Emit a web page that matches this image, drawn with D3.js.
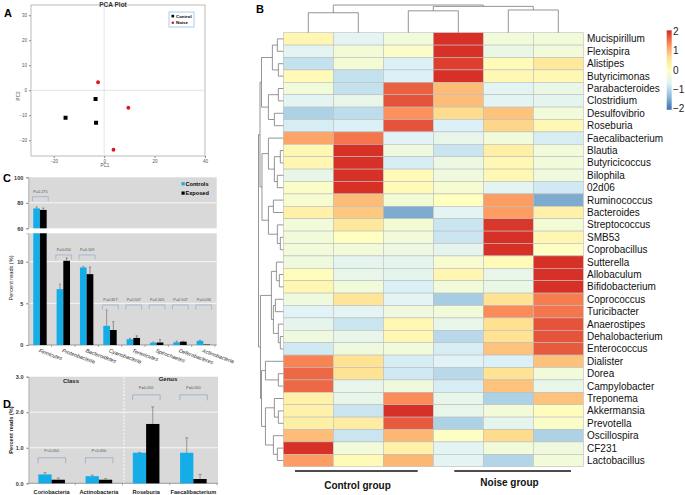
<!DOCTYPE html>
<html><head><meta charset="utf-8">
<script src="https://cdn.jsdelivr.net/npm/d3@7"></script>
<style>
body{margin:0;background:#fff}
svg{display:block}
text{font-family:"Liberation Sans",Arial,sans-serif}
</style>
</head><body>
<svg id="c" width="685" height="495"></svg>
<script>
// ================= DATA =================
// Panel A: PCA scores
const pcaControl = [[-15.3,-11.0],[-3.4,-3.5],[-3.2,-13.0]];
const pcaNoise   = [[-2.4,3.2],[9.6,-7.0],[3.7,-23.8]];
const pcaXTicks = [-20,0,20,40];
const pcaYTicks = [-20,-10,0,10,20,30];

// Panel C: phyla
const phyla = ["Firmicutes","Proteobacteria","Bacteroidetes","Cyanobacteria","Tenericutes","Spirochaetes","Deferribacteres","Actinobacteria"];
const phylaControl    = [75.6, 6.7, 9.3, 2.3, 0.7, 0.28, 0.33, 0.5];
const phylaControlErr = [1.2, 0.6, 0.12, 1.9, 0.1, 0.07, 0.15, 0.05];
const phylaExposed    = [74.4, 10.1, 8.5, 1.8, 0.85, 0.3, 0.4, 0.05];
const phylaExposedErr = [1.5, 0.35, 0.85, 1.0, 0.25, 0.35, 0.05, 0];
const phylaP          = ["P=0.275","P=0.050","P=0.109","P=0.827","P=0.507","P=0.505","P=0.507","P=0.034"];
const phylaBracket    = [84.8, 10.8, 10.8, 4.8, 4.8, 4.8, 4.8, 4.8];
const cTicksTop = [60,80,100];
const cTicksBot = [0,5,10];

// Panel D
const taxaD = ["Coriobacteria","Actinobacteria","Roseburia","Faecalibacterium"];
const dControl    = [0.25, 0.2, 0.86, 0.86];
const dControlErr = [0.05, 0.03, 0.01, 0.42];
const dExposed    = [0.1, 0.1, 1.67, 0.12];
const dExposedErr = [0.05, 0.03, 0.48, 0.13];
const dP          = ["P<0.050","P<0.050","P=0.050","P=0.050"];
const dBracket    = [0.72, 0.72, 2.49, 2.49];
const dTicks = [0,1,2,3];

// Panel B: heatmap
const genera = ["Mucispirillum","Flexispira","Alistipes","Butyricimonas","Parabacteroides","Clostridium","Desulfovibrio","Roseburia","Faecalibacterium","Blautia","Butyricicoccus","Bilophila","02d06","Ruminococcus","Bacteroides","Streptococcus","SMB53","Coprobacillus","Sutterella","Allobaculum","Bifidobacterium","Coprococcus","Turicibacter","Anaerostipes","Dehalobacterium","Enterococcus","Dialister","Dorea","Campylobacter","Treponema","Akkermansia","Prevotella","Oscillospira","CF231","Lactobacillus"];
const samples = ["C1","C2","C3","N1","N2","N3"];
const heatValues = [
[0.2,-0.6,-0.3,2.1,-0.3,-0.3],
[-0.6,-0.25,-0.1,2.1,-0.45,-0.3],
[-0.9,-0.25,-0.7,1.9,0.1,0.5],
[0.1,-0.9,-0.7,2.0,0.15,0.15],
[-0.3,-0.9,1.65,0.95,-0.6,-0.45],
[-0.6,-0.5,1.75,0.95,-0.6,-0.55],
[-1.1,-0.95,1.3,0.7,0.9,-0.3],
[-0.75,-0.7,1.75,-0.7,0.75,0.15],
[1.15,1.5,-0.65,-0.5,-0.3,-0.75],
[0.15,2.1,-0.35,-0.85,0.35,-0.3],
[0.2,2.1,-0.75,-0.4,0.15,-0.3],
[-0.5,2.1,0.1,-0.35,0.15,-0.35],
[-0.1,2.1,0.1,-0.2,-0.6,-0.8],
[-0.2,0.95,-0.25,0.0,1.2,-1.5],
[0.3,0.85,-1.5,-0.6,1.2,0.3],
[-0.3,0.5,-0.25,-0.85,1.95,-0.25],
[-0.3,0.0,-0.3,-0.85,2.0,0.2],
[-0.3,-0.3,-0.4,-0.55,2.1,-0.05],
[-0.35,-0.55,-0.55,-0.2,0.1,2.1],
[0.05,-0.5,-0.55,0.2,-0.5,2.1],
[0.2,-0.3,-0.7,-0.3,-0.45,2.1],
[-0.35,0.55,-0.6,-1.15,0.6,1.45],
[-0.65,-0.6,-0.35,-0.3,1.35,1.5],
[-0.55,-0.85,0.15,-0.5,0.65,1.75],
[-0.35,-0.5,0.15,-1.0,0.6,1.75],
[-0.8,-0.35,-0.3,-0.75,0.9,1.7],
[1.4,0.6,-0.75,-0.65,-0.7,0.9],
[1.6,0.6,-0.8,-1.0,0.6,-0.3],
[1.6,-0.5,-0.35,-0.75,0.9,-0.5],
[0.3,-0.5,1.35,-0.5,-1.1,0.9],
[0.3,-0.85,2.0,-0.5,-0.3,0.05],
[0.35,0.4,1.7,-1.1,-0.55,-0.1],
[0.95,-0.85,1.0,-0.05,0.7,-1.1],
[2.0,-0.3,0.3,-0.6,-0.3,-0.35],
[1.2,0.1,1.0,-0.6,-1.05,-0.3]
];
const legendTicks = [2,1,0,-1,-2];
// dendrograms: [left, right, height]
const colTree = [[0,1,7.2],[[2,3,7.9],[4,5,8.2],9.5],10];
const G1 = [[0,1,6],[2,3,5],11];
const G2 = [[4,5,5],[6,7,9],15];
const G3 = [8,[[9,10,3],[11,12,6],9],15];
const G4 = [[13,14,10],[15,[16,17,3],6],15];
const G5 = [[18,[19,20,4],7],[[21,22,8],[23,[24,25,3],5],10],12];
const G6 = [26,[27,28,5],18];
const G7 = [[29,[30,31,5],9],[32,[33,34,6],10],18];
const rowTree = [[[G1,G2,22],[G3,G4,21.5],23.5],[G5,[G6,G7,22],23],25];

// ================= DRAW =================
const svg = d3.select("#c");
const blue = "#14ADE8";

function letter(x,y,t){
  svg.append("text").attr("x",x).attr("y",y).attr("font-size",11).attr("font-weight","bold").text(t);
}

// ---------- Panel A ----------
(function(){
  const g = svg.append("g");
  const x = d3.scaleLinear().domain([-29,40]).range([31,205]);
  const y = d3.scaleLinear().domain([-26.3,34.1]).range([156,5]);
  g.append("rect").attr("x",31).attr("y",5).attr("width",174).attr("height",151).attr("fill","#fff").attr("stroke","#aaa").attr("stroke-width",0.8);
  g.append("line").attr("x1",x(0)).attr("x2",x(0)).attr("y1",5).attr("y2",156).attr("stroke","#ddd").attr("stroke-width",0.8);
  g.append("line").attr("x1",31).attr("x2",205).attr("y1",y(0)).attr("y2",y(0)).attr("stroke","#ddd").attr("stroke-width",0.8);
  const ax = g.append("g").attr("transform","translate(0,156)").call(d3.axisBottom(x).tickValues(pcaXTicks).tickSize(2).tickPadding(2));
  const ay = g.append("g").attr("transform","translate(31,0)").call(d3.axisLeft(y).tickValues(pcaYTicks).tickSize(2).tickPadding(2));
  [ax,ay].forEach(a=>{a.select(".domain").remove();a.selectAll("line").attr("stroke","#888");a.selectAll("text").attr("font-size",4.5).attr("fill","#555");});
  g.selectAll(".ctl").data(pcaControl).enter().append("rect")
    .attr("x",d=>x(d[0])-2).attr("y",d=>y(d[1])-2).attr("width",4).attr("height",4).attr("fill","#000");
  g.selectAll(".noi").data(pcaNoise).enter().append("circle")
    .attr("cx",d=>x(d[0])).attr("cy",d=>y(d[1])).attr("r",1.9).attr("fill","#e0141e");
  g.append("text").attr("x",113).attr("y",6.5).attr("text-anchor","middle").attr("font-size",6.5).attr("font-weight","bold").attr("fill","#333").text("PCA Plot");
  g.append("text").attr("x",105).attr("y",167).attr("text-anchor","middle").attr("font-size",4.5).attr("fill","#555").text("PC1");
  g.append("text").attr("transform","translate(20,96) rotate(-90)").attr("text-anchor","middle").attr("font-size",4.5).attr("fill","#555").text("PC2");
  // legend
  g.append("rect").attr("x",169).attr("y",12).attr("width",25).attr("height",15).attr("fill","#fff").attr("stroke","#8fc0e8").attr("stroke-width",0.8);
  g.append("rect").attr("x",171.5).attr("y",14.8).attr("width",2.6).attr("height",2.6).attr("fill","#000");
  g.append("circle").attr("cx",172.8).attr("cy",22.7).attr("r",1.3).attr("fill","#e0141e");
  g.append("text").attr("x",176).attr("y",17.6).attr("font-size",4.4).attr("font-weight","bold").text("Control");
  g.append("text").attr("x",176).attr("y",24.3).attr("font-size",4.4).attr("font-weight","bold").text("Noise");
  letter(4,17,"A");
})();

// ---------- Panel C ----------
(function(){
  const g = svg.append("g");
  const x = d3.scaleBand().domain(phyla).range([28.3,215]);
  const yT = d3.scaleLinear().domain([60,100]).range([228.3,177.3]);
  const yB = d3.scaleLinear().domain([0,13.4]).range([345,233.3]);
  const L = 28.3, R = 216.7;
  g.append("rect").attr("x",L).attr("y",yT(100)).attr("width",R-L).attr("height",yT(60)-yT(100)).attr("fill","#d9d9d9");
  g.append("rect").attr("x",L).attr("y",yB(13.4)).attr("width",R-L).attr("height",yB(0)-yB(13.4)).attr("fill","#d9d9d9");
  [80].forEach(v=>g.append("line").attr("x1",L).attr("x2",R).attr("y1",yT(v)).attr("y2",yT(v)).attr("stroke","#fff").attr("stroke-width",0.8));
  [5,10].forEach(v=>g.append("line").attr("x1",L).attr("x2",R).attr("y1",yB(v)).attr("y2",yB(v)).attr("stroke","#fff").attr("stroke-width",0.8));
  // axes
  const at = g.append("g").attr("transform",`translate(${L},0)`).call(d3.axisLeft(yT).tickValues(cTicksTop).tickSize(2).tickPadding(3));
  const ab = g.append("g").attr("transform",`translate(${L},0)`).call(d3.axisLeft(yB).tickValues(cTicksBot).tickSize(2).tickPadding(3));
  [at,ab].forEach(a=>{a.select(".domain").attr("stroke","#999").attr("stroke-width",0.6);a.selectAll("line").attr("stroke","#777");a.selectAll("text").attr("font-size",5.5).attr("font-weight","bold").attr("fill","#333");});
  g.append("line").attr("x1",L).attr("x2",R).attr("y1",yB(0)).attr("y2",yB(0)).attr("stroke","#777").attr("stroke-width",0.7);
  phyla.forEach((p,i)=>{
    const bx = x(p)+x.bandwidth();
    g.append("line").attr("x1",bx).attr("x2",bx).attr("y1",yB(0)).attr("y2",yB(0)+2).attr("stroke","#777").attr("stroke-width",0.6);
  });
  const bw = 6.7;
  function bar(v,err,cx,col,ecol){
    if (v > 13.4){
      g.append("rect").attr("x",cx).attr("y",yB(13.4)).attr("width",bw).attr("height",yB(0)-yB(13.4)).attr("fill",col);
      g.append("rect").attr("x",cx).attr("y",yT(v)).attr("width",bw).attr("height",yT(60)-yT(v)).attr("fill",col);
      const ex = cx+bw/2;
      g.append("line").attr("x1",ex).attr("x2",ex).attr("y1",yT(v)).attr("y2",yT(v+err)).attr("stroke",ecol).attr("stroke-width",0.6);
      g.append("line").attr("x1",ex-1).attr("x2",ex+1).attr("y1",yT(v+err)).attr("y2",yT(v+err)).attr("stroke",ecol).attr("stroke-width",0.6);
    } else {
      g.append("rect").attr("x",cx).attr("y",yB(v)).attr("width",bw).attr("height",yB(0)-yB(v)).attr("fill",col);
      if (err>0){
        const ex = cx+bw/2;
        g.append("line").attr("x1",ex).attr("x2",ex).attr("y1",yB(v)).attr("y2",yB(v+err)).attr("stroke",ecol).attr("stroke-width",0.6);
        g.append("line").attr("x1",ex-1).attr("x2",ex+1).attr("y1",yB(v+err)).attr("y2",yB(v+err)).attr("stroke",ecol).attr("stroke-width",0.6);
      }
    }
  }
  phyla.forEach((p,i)=>{
    const c = x(p)+x.bandwidth()/2;
    bar(phylaControl[i],phylaControlErr[i],c-bw,blue,"#666");
    bar(phylaExposed[i],phylaExposedErr[i],c,"#000","#555");
    // bracket
    const lv = phylaBracket[i];
    const by = lv>13.4 ? yT(lv) : yB(lv);
    g.append("path").attr("d",`M${c-7.5},${by+4.5}V${by}H${c+8.3}V${by+4.5}`).attr("fill","none").attr("stroke","#94aacb").attr("stroke-width",0.7);
    g.append("text").attr("x",c+0.5).attr("y",by-4).attr("text-anchor","middle").attr("font-size",3.8).attr("fill","#555").text(phylaP[i]);
    g.append("text").attr("transform",`translate(${c-1.5},${yB(0)+7}) rotate(20)`).attr("font-size",5.3).attr("font-style","italic").attr("fill","#222").text(p);
  });
  g.append("text").attr("transform","translate(13,278) rotate(-90)").attr("text-anchor","middle").attr("font-size",5.6).attr("fill","#222").text("Percent reads (%)");
  // legend
  g.append("rect").attr("x",181.5).attr("y",182.2).attr("width",3.2).attr("height",3.2).attr("fill",blue);
  g.append("rect").attr("x",181.5).attr("y",191.5).attr("width",3.2).attr("height",3.2).attr("fill","#000");
  g.append("text").attr("x",185.5).attr("y",185.6).attr("font-size",5.6).attr("font-weight","bold").text("Controls");
  g.append("text").attr("x",185.5).attr("y",194.9).attr("font-size",5.6).attr("font-weight","bold").text("Exposed");
  letter(3,182,"C");
})();

// ---------- Panel D ----------
(function(){
  const g = svg.append("g");
  const x = d3.scaleBand().domain(taxaD).range([28,217]);
  const y = d3.scaleLinear().domain([0,3]).range([483.3,376.7]);
  const L = 28.5, R = 218;
  g.append("rect").attr("x",L).attr("y",y(3)).attr("width",R-L).attr("height",y(0)-y(3)).attr("fill","#d9d9d9");
  [1,2].forEach(v=>g.append("line").attr("x1",L).attr("x2",R).attr("y1",y(v)).attr("y2",y(v)).attr("stroke","#fff").attr("stroke-width",0.8));
  const sep = x(taxaD[2]);
  g.append("line").attr("x1",sep+1.5).attr("x2",sep+1.5).attr("y1",y(3)).attr("y2",y(0)).attr("stroke","#fff").attr("stroke-width",1).attr("stroke-dasharray","2,1.5");
  const a = g.append("g").attr("transform",`translate(${L},0)`).call(d3.axisLeft(y).tickValues(dTicks).tickSize(2).tickPadding(3));
  a.select(".domain").attr("stroke","#999").attr("stroke-width",0.6);
  a.selectAll("line").attr("stroke","#777");
  a.selectAll("text").attr("font-size",5.5).attr("font-weight","bold").attr("fill","#333");
  g.append("line").attr("x1",L).attr("x2",R).attr("y1",y(0)).attr("y2",y(0)).attr("stroke","#777").attr("stroke-width",0.7);
  taxaD.forEach((t,i)=>{
    const bx = x(t)+x.bandwidth();
    g.append("line").attr("x1",bx).attr("x2",bx).attr("y1",y(0)).attr("y2",y(0)+2).attr("stroke","#777").attr("stroke-width",0.6);
  });
  const bw = 13.3;
  function bar(v,err,cx,col,ecol){
    g.append("rect").attr("x",cx).attr("y",y(v)).attr("width",bw).attr("height",y(0)-y(v)).attr("fill",col);
    const ex = cx+bw/2;
    g.append("line").attr("x1",ex).attr("x2",ex).attr("y1",y(v)).attr("y2",y(v+err)).attr("stroke",ecol).attr("stroke-width",0.7);
    g.append("line").attr("x1",ex-1.5).attr("x2",ex+1.5).attr("y1",y(v+err)).attr("y2",y(v+err)).attr("stroke",ecol).attr("stroke-width",0.7);
  }
  taxaD.forEach((t,i)=>{
    const c = x(t)+x.bandwidth()/2;
    bar(dControl[i],dControlErr[i],c-bw,blue,"#777");
    bar(dExposed[i],dExposedErr[i],c,"#000","#777");
    const by = y(dBracket[i]);
    g.append("path").attr("d",`M${c-13.5},${by+5.5}V${by}H${c+14}V${by+5.5}`).attr("fill","none").attr("stroke","#94aacb").attr("stroke-width",0.8);
    g.append("text").attr("x",c).attr("y",by-5.5).attr("text-anchor","middle").attr("font-size",3.9).attr("fill","#555").text(dP[i]);
    g.append("text").attr("x",c).attr("y",494).attr("text-anchor","middle").attr("font-size",5.6).attr("font-weight","bold").attr("fill","#222").text(t);
  });
  g.append("text").attr("x",71).attr("y",382.5).attr("text-anchor","middle").attr("font-size",6).attr("font-weight","bold").attr("fill","#222").text("Class");
  g.append("text").attr("x",168).attr("y",381).attr("text-anchor","middle").attr("font-size",6).attr("font-weight","bold").attr("fill","#222").text("Genus");
  g.append("text").attr("transform","translate(13,430) rotate(-90)").attr("text-anchor","middle").attr("font-size",5.6).attr("font-weight","bold").attr("fill","#222").text("Percent reads (%)");
  letter(3,408,"D");
})();

// ---------- Panel B ----------
(function(){
  const g = svg.append("g");
  const x = d3.scaleBand().domain(d3.range(samples.length)).range([283.3,583.3]);
  const y = d3.scaleBand().domain(d3.range(genera.length)).range([32.7,466.7]);
  const color = d3.scaleLinear()
    .domain([-2,-1.333,-0.667,0,0.667,1.333,2])
    .range(["#4575B4","#91BFDB","#E0F3F8","#FFFFBF","#FEE090","#FC8D59","#D73027"])
    .clamp(true);
  heatValues.forEach((row,r)=>{
    row.forEach((v,c)=>{
      g.append("rect").attr("x",x(c)).attr("y",y(r)).attr("width",x.bandwidth()).attr("height",y.bandwidth())
        .attr("fill",color(v)).attr("stroke","#bdbdbd").attr("stroke-width",0.6);
    });
  });
  // row labels
  genera.forEach((n,r)=>{
    g.append("text").attr("x",587).attr("y",y(r)+y.bandwidth()/2).attr("dy","0.35em").attr("font-size",10).attr("fill","#111").text(n);
  });
  // dendrograms
  function dendro(tree, leafPos, hs, orient){
    function rec(node){
      if (typeof node === "number") return {p:leafPos(node), h:0};
      const a = rec(node[0]), b = rec(node[1]), h = node[2];
      let d;
      if (orient==="top") d = `M${a.p},${hs(a.h)}V${hs(h)}H${b.p}V${hs(b.h)}`;
      else d = `M${hs(a.h)},${a.p}H${hs(h)}V${b.p}H${hs(b.h)}`;
      g.append("path").attr("d",d).attr("fill","none").attr("stroke","#7a7a7a").attr("stroke-width",0.8);
      return {p:(a.p+b.p)/2, h:h};
    }
    rec(tree);
  }
  dendro(colTree, i=>x(i)+x.bandwidth()/2, d3.scaleLinear().domain([0,10]).range([32.7,5]), "top");
  dendro(rowTree, i=>y(i)+y.bandwidth()/2, d3.scaleLinear().domain([0,25]).range([283.3,258.5]), "left");
  // group lines & labels
  g.append("line").attr("x1",295).attr("x2",417.7).attr("y1",471).attr("y2",471).attr("stroke","#111").attr("stroke-width",1.3);
  g.append("line").attr("x1",454.3).attr("x2",571).attr("y1",471).attr("y2",471).attr("stroke","#111").attr("stroke-width",1.3);
  g.append("text").attr("x",357.5).attr("y",488.5).attr("text-anchor","middle").attr("font-size",10).attr("font-weight","bold").attr("fill","#111").text("Control group");
  g.append("text").attr("x",509.5).attr("y",486.3).attr("text-anchor","middle").attr("font-size",10).attr("font-weight","bold").attr("fill","#111").text("Noise group");
  // color legend
  const cb = d3.scaleLinear().domain([-2,2]).range([108.8,31.3]);
  const defs = svg.append("defs");
  const grad = defs.append("linearGradient").attr("id","cbg").attr("x1",0).attr("y1",1).attr("x2",0).attr("y2",0);
  const stops = [-2,-1.333,-0.667,0,0.667,1.333,2];
  stops.forEach(s=>grad.append("stop").attr("offset",(s+2.05)/4.1).attr("stop-color",color(s)));
  g.append("rect").attr("x",666.7).attr("y",cb(2.05)).attr("width",5).attr("height",cb(-2.05)-cb(2.05)).attr("fill","url(#cbg)");
  legendTicks.forEach(t=>{
    g.append("text").attr("x",673).attr("y",cb(t)).attr("dy","0.35em").attr("font-size",10).attr("fill","#222").text(t<0?"\u2212"+Math.abs(t):String(t));
  });
  letter(256,13,"B");
})();
</script>
</body></html>
